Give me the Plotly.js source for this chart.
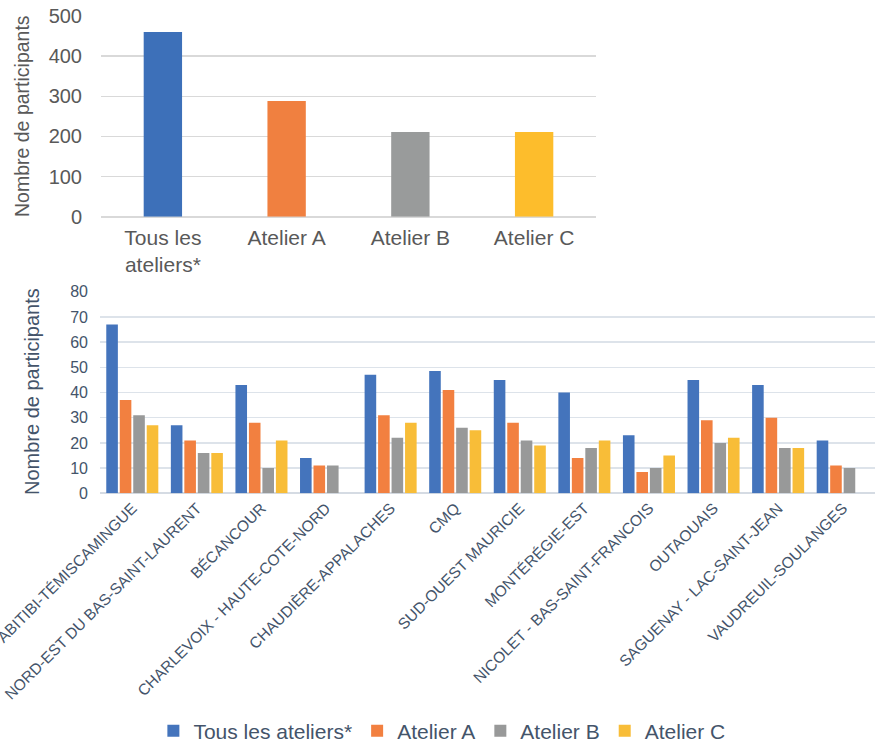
<!DOCTYPE html>
<html>
<head>
<meta charset="utf-8">
<script src="https://cdn.plot.ly/plotly-3.0.1.min.js"></script>
<style>html,body{margin:0;padding:0;background:#fff;}#chart{width:875px;height:743px;}</style>
</head>
<body>
<div id="chart"></div>
<script>
// Top chart data
const topCategories = ["Tous les<br>ateliers*", "Atelier A", "Atelier B", "Atelier C"];
const topValues = [460, 288, 211, 211];

// Bottom chart data
const regions = [
  "ABITIBI-TÉMISCAMINGUE",
  "NORD-EST DU BAS-SAINT-LAURENT",
  "BÉCANCOUR",
  "CHARLEVOIX - HAUTE-COTE-NORD",
  "CHAUDIÈRE-APPALACHES",
  "CMQ",
  "SUD-OUEST MAURICIE",
  "MONTÉRÉGIE-EST",
  "NICOLET - BAS-SAINT-FRANCOIS",
  "OUTAOUAIS",
  "SAGUENAY - LAC-SAINT-JEAN",
  "VAUDREUIL-SOULANGES"
];
const seriesNames = ["Tous les ateliers*", "Atelier A", "Atelier B", "Atelier C"];
const tousValues = [67, 27, 43, 14, 47, 48.5, 45, 40, 23, 45, 43, 21];
const atelierAValues = [37, 21, 28, 11, 31, 41, 28, 14, 8.5, 29, 30, 11];
const atelierBValues = [31, 16, 10, 11, 22, 26, 21, 18, 10, 20, 18, 10];
const atelierCValues = [27, 16, 21, null, 28, 25, 19, 21, 15, 22, 18, null];

const W = 875, H = 743;
const px = x => x / W;
const py = y => 1 - y / H;

const topColors = ["#3d70b9", "#f08040", "#999b9b", "#fdbd2c"];
const botColors = ["#4474bc", "#f28040", "#989999", "#f8bd38"];
const FONT = "Liberation Sans, Arial, sans-serif";

const traces = [
  {
    type: "bar", x: topCategories, y: topValues,
    marker: {color: topColors},
    xaxis: "x", yaxis: "y", showlegend: false, hoverinfo: "x+y",
    width: 0.31
  }
];
const botSeries = [tousValues, atelierAValues, atelierBValues, atelierCValues];
botSeries.forEach((vals, i) => {
  traces.push({
    type: "bar", name: seriesNames[i], x: regions, y: vals,
    marker: {color: botColors[i]},
    xaxis: "x2", yaxis: "y2"
  });
});

const layout = {
  width: W, height: H,
  margin: {l: 0, r: 0, t: 0, b: 0, autoexpand: false},
  paper_bgcolor: "#ffffff", plot_bgcolor: "#ffffff",
  font: {family: FONT, color: "#595959"},
  barmode: "group",
  bargap: 0.165,
  bargroupgap: 0.14,
  xaxis: {
    domain: [px(101), px(596)], anchor: "y",
    type: "category",
    tickfont: {size: 21, color: "#595959", family: FONT},
    showgrid: false, showline: false, ticks: "",
    ticklabelstandoff: 6
  },
  yaxis: {
    domain: [py(216.7), py(16)], anchor: "x",
    range: [0, 500], dtick: 100,
    tickfont: {size: 20, color: "#595959", family: FONT},
    gridcolor: "#d9d9d9", gridwidth: 1.5,
    zeroline: true, zerolinecolor: "#d9d9d9", zerolinewidth: 2,
    showline: false, ticks: "",
    ticklabelstandoff: 18
  },
  xaxis2: {
    domain: [px(100), px(875)], anchor: "y2",
    type: "category",
    tickangle: -45,
    tickfont: {size: 15.5, color: "#44546a", family: FONT},
    showgrid: false, showline: false, ticks: "",
    ticklabelstandoff: 2
  },
  yaxis2: {
    domain: [py(493.3), py(291.7)], anchor: "x2",
    range: [0, 80], dtick: 10,
    tickfont: {size: 16, color: "#44546a", family: FONT},
    gridcolor: "#dde3ea", gridwidth: 1.5,
    zeroline: true, zerolinecolor: "#d5dbe3", zerolinewidth: 2,
    showline: false, ticks: "",
    ticklabelstandoff: 11
  },
  showlegend: true,
  legend: {
    orientation: "h",
    x: 0.505, xanchor: "center",
    y: py(731), yanchor: "middle",
    font: {size: 21, color: "#44546a", family: FONT},
    itemwidth: 30,
    traceorder: "normal"
  },
  annotations: [
    {
      text: "Nombre de participants", xref: "paper", yref: "paper",
      x: px(22), y: py(116), xanchor: "center", yanchor: "middle",
      textangle: -90, showarrow: false,
      font: {size: 19.5, color: "#595959", family: FONT}
    },
    {
      text: "Nombre de participants", xref: "paper", yref: "paper",
      x: px(32), y: py(392), xanchor: "center", yanchor: "middle",
      textangle: -90, showarrow: false,
      font: {size: 20, color: "#44546a", family: FONT}
    }
  ]
};

Plotly.newPlot("chart", traces, layout, {displayModeBar: false, staticPlot: true});
</script>
</body>
</html>
